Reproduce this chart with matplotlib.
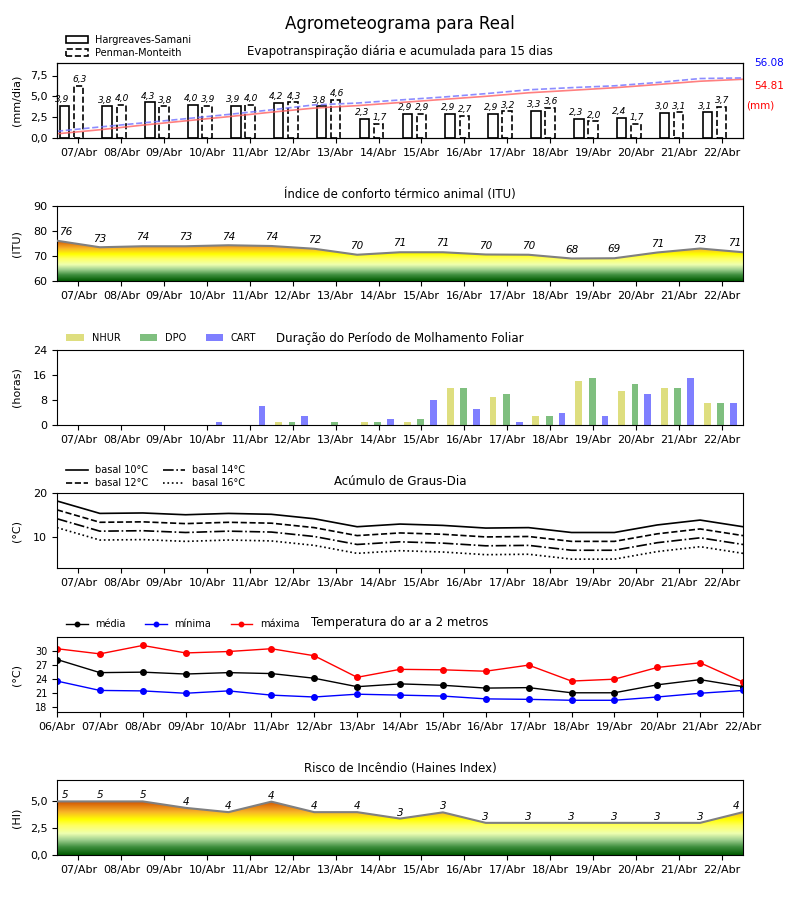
import numpy as np
import matplotlib
matplotlib.use('Agg')
import matplotlib.pyplot as plt
from matplotlib.colors import LinearSegmentedColormap
from matplotlib.patches import PathPatch
from matplotlib.ticker import FuncFormatter

# dias (06/Abr ... 22/Abr)
dias = ['06/Abr', '07/Abr', '08/Abr', '09/Abr', '10/Abr', '11/Abr', '12/Abr', '13/Abr',
        '14/Abr', '15/Abr', '16/Abr', '17/Abr', '18/Abr', '19/Abr', '20/Abr', '21/Abr', '22/Abr']
dias_bar = dias[1:]

# evapotranspiracao diaria (mm/dia)
et_hs = [3.9, 3.8, 4.3, 4.0, 3.9, 4.2, 3.8, 2.3, 2.9, 2.9, 2.9, 3.3, 2.3, 2.4, 3.0, 3.1]
et_pm = [6.3, 4.0, 3.8, 3.9, 4.0, 4.3, 4.6, 1.7, 2.9, 2.7, 3.2, 3.6, 2.0, 1.7, 3.1, 3.7]
# acumulado (mm)
acc_hs = [3.9, 7.7, 12.0, 16.0, 19.9, 24.1, 27.9, 30.2, 33.1, 36.0, 38.9, 42.2, 44.5, 46.9,
          49.9, 53.0, 54.81]
acc_pm = [6.3, 10.3, 14.1, 18.0, 22.0, 26.3, 30.9, 32.6, 35.5, 38.2, 41.4, 45.0, 47.0, 48.7,
          51.8, 55.5, 56.08]

# ITU
itu = [76.1, 73.5, 73.9, 73.9, 74.3, 74.0, 72.9, 70.5, 71.5, 71.5, 70.6, 70.5, 69.0, 69.1,
       71.4, 73.0, 71.5]
itu_lbl = [76, 73, 74, 73, 74, 74, 72, 70, 71, 71, 70, 70, 68, 69, 71, 73, 71]

# molhamento foliar (horas)
nhur = [0, 0, 0, 0, 0, 1, 0, 1, 1, 12, 9, 3, 14, 11, 12, 7]
dpo = [0, 0, 0, 0, 0, 1, 1, 1, 2, 12, 10, 3, 15, 13, 12, 7]
cart = [0, 0, 0, 1, 6, 3, 0, 2, 8, 5, 1, 4, 3, 10, 15, 7]

# graus-dia
gd10 = [18.2, 15.4, 15.5, 15.1, 15.4, 15.2, 14.2, 12.4, 13.0, 12.7, 12.1, 12.2, 11.1, 11.1, 12.8, 13.9, 12.4]
gd12 = [16.2, 13.4, 13.5, 13.1, 13.4, 13.2, 12.2, 10.4, 11.0, 10.7, 10.1, 10.2, 9.1, 9.1, 10.8, 11.9, 10.4]
gd14 = [14.2, 11.4, 11.5, 11.1, 11.4, 11.2, 10.2, 8.4, 9.0, 8.7, 8.1, 8.2, 7.1, 7.1, 8.8, 9.9, 8.4]
gd16 = [12.2, 9.4, 9.5, 9.1, 9.4, 9.2, 8.2, 6.4, 7.0, 6.7, 6.1, 6.2, 5.1, 5.1, 6.8, 7.9, 6.4]

# temperatura do ar
t_med = [28.2, 25.4, 25.5, 25.1, 25.4, 25.2, 24.2, 22.4, 23.0, 22.7, 22.1, 22.2, 21.1, 21.1, 22.8, 23.9, 22.4]
t_min = [23.6, 21.6, 21.5, 21.0, 21.5, 20.6, 20.2, 20.8, 20.6, 20.4, 19.8, 19.7, 19.5, 19.5, 20.2, 21.0, 21.6]
t_max = [30.5, 29.4, 31.2, 29.6, 29.9, 30.5, 29.0, 24.4, 26.1, 26.0, 25.7, 27.0, 23.6, 24.0, 26.5, 27.5, 23.4]

# Haines
haines = [5.0, 5.0, 5.0, 4.4, 4.0, 4.98, 4.0, 4.0, 3.4, 3.98, 3.0, 3.0, 3.0, 3.0, 3.0, 3.0, 4.0]
haines_lbl = [5, 5, 5, 4, 4, 4, 4, 4, 3, 3, 3, 3, 3, 3, 3, 3, 4]

cmap = LinearSegmentedColormap.from_list('risco', [
    (0.0, '#005a00'), (0.15, '#3f8f3f'), (0.28, '#9fd08f'), (0.40, '#eeffb0'),
    (0.55, '#ffff60'), (0.66, '#ffff00'), (0.80, '#f8b428'), (1.0, '#d05000')])

comma = FuncFormatter(lambda v, p: f'{v:.1f}'.replace('.', ','))

fig = plt.figure(figsize=(8, 9), dpi=100)
fig.suptitle('Agrometeograma para Real', fontsize=12, y=0.983)


def make_ax(top_px):
    return fig.add_axes([57 / 800, 1 - (top_px + 75) / 900, 686 / 800, 75 / 900])


def day_axis(ax):
    ax.set_xlim(0, 16)
    ax.set_xticks(np.arange(16) + 0.5)
    ax.set_xticklabels(dias_bar)
    ax.tick_params(labelsize=8)


def gradient_fill(ax, x, y, y0):
    poly = ax.fill_between(x, y0, y, facecolor='none', edgecolor='none')
    patch = PathPatch(poly.get_paths()[0], transform=ax.transData, facecolor='none', edgecolor='none')
    ax.add_patch(patch)
    grad = np.linspace(0, 1, 256).reshape(-1, 1)
    im = ax.imshow(grad, extent=[x[0], x[-1], y0, max(y)], origin='lower', aspect='auto',
                   cmap=cmap, zorder=1)
    im.set_clip_path(patch)
    ax.plot(x, y, color='gray', lw=1.5, zorder=3)


x17 = np.arange(17)
x16 = np.arange(16)

# 1) evapotranspiracao
ax1 = make_ax(63)
b1 = ax1.bar(x16 + 0.17, et_hs, 0.22, facecolor='white', edgecolor='black', lw=1.2,
             label='Hargreaves-Samani')
b2 = ax1.bar(x16 + 0.50, et_pm, 0.22, facecolor='white', edgecolor='black', lw=1.2,
             linestyle='--', label='Penman-Monteith')
for i in range(16):
    ax1.text(x16[i] + 0.12, et_hs[i] + 0.2, f'{et_hs[i]:.1f}'.replace('.', ','),
             ha='center', va='bottom', fontsize=6.5, style='italic')
    ax1.text(x16[i] + 0.52, et_pm[i] + 0.2, f'{et_pm[i]:.1f}'.replace('.', ','),
             ha='center', va='bottom', fontsize=6.5, style='italic')
ax1.set_ylim(0, 9)
ax1.set_yticks([0, 2.5, 5, 7.5])
ax1.yaxis.set_major_formatter(comma)
day_axis(ax1)
ax1.set_ylabel('(mm/dia)', fontsize=8)
ax1.set_title('Evapotranspiração diária e acumulada para 15 dias', fontsize=8.5, pad=6)
ax1.legend(loc='lower left', bbox_to_anchor=(0.005, 0.99), frameon=False, fontsize=7,
           handlelength=2.2, borderpad=0.1, labelspacing=0.3)
ax1b = ax1.twinx()
ax1b.plot(x17, acc_hs, color='#ff6060', lw=1.2, alpha=0.8)
ax1b.plot(x17, acc_pm, color='#7070ff', lw=1.2, ls='--', alpha=0.8)
ax1b.set_ylim(0, 70)
ax1b.set_yticks([])
ax1b.set_xlim(0, 16)
ax1.text(1.017, 1.0, f'{acc_pm[-1]:.2f}', transform=ax1.transAxes, color='blue', fontsize=7.5,
         va='center', ha='left')
ax1.text(1.017, 0.69, f'{acc_hs[-1]:.2f}', transform=ax1.transAxes, color='red', fontsize=7.5,
         va='center', ha='left')
ax1.text(1.004, 0.44, '(mm)', transform=ax1.transAxes, color='red', fontsize=7.5,
         va='center', ha='left')

# 2) ITU
ax2 = make_ax(206)
gradient_fill(ax2, x17, itu, 60)
for i in range(17):
    xi = min(max(x17[i], 0.2), 15.8)
    ax2.text(xi, itu[i] + 1.5, str(itu_lbl[i]), ha='center', va='bottom', fontsize=7.5,
             style='italic')
ax2.set_ylim(60, 90)
ax2.set_yticks([60, 70, 80, 90])
day_axis(ax2)
ax2.set_ylabel('(ITU)', fontsize=8)
ax2.set_title('Índice de conforto térmico animal (ITU)', fontsize=8.5, pad=6)

# 3) molhamento foliar
ax3 = make_ax(350)
ax3.bar(x16 + 0.17, nhur, 0.16, color='y', alpha=0.5, label='NHUR')
ax3.bar(x16 + 0.48, dpo, 0.16, color='g', alpha=0.5, label='DPO')
ax3.bar(x16 + 0.78, cart, 0.16, color='b', alpha=0.5, label='CART')
ax3.set_ylim(0, 24)
ax3.set_yticks([0, 8, 16, 24])
day_axis(ax3)
ax3.set_ylabel('(horas)', fontsize=8)
ax3.set_title('Duração do Período de Molhamento Foliar', fontsize=8.5, pad=6)
ax3.legend(loc='lower left', bbox_to_anchor=(0.005, 1.02), ncol=3, frameon=False, fontsize=7,
           borderpad=0.1, columnspacing=2.0, handlelength=1.8)

# 4) graus-dia
ax4 = make_ax(493)
ax4.plot(x17, gd10, 'k-', lw=1.2, label='basal 10°C')
ax4.plot(x17, gd12, 'k--', lw=1.2, label='basal 12°C')
ax4.plot(x17, gd14, 'k-.', lw=1.2, label='basal 14°C')
ax4.plot(x17, gd16, 'k:', lw=1.2, label='basal 16°C')
ax4.set_ylim(3.1, 20)
ax4.set_yticks([10, 20])
day_axis(ax4)
ax4.set_ylabel('(°C)', fontsize=8)
ax4.set_title('Acúmulo de Graus-Dia', fontsize=8.5, pad=6)
ax4.legend(loc='lower left', bbox_to_anchor=(0.005, 0.99), ncol=2, frameon=False, fontsize=7,
           borderpad=0.1, labelspacing=0.3, handlelength=2.2, columnspacing=1.5)

# 5) temperatura
ax5 = make_ax(637)
ax5.plot(x17, t_med, '-o', color='black', ms=4, lw=1, label='média')
ax5.plot(x17, t_min, '-o', color='blue', ms=4, lw=1, label='mínima')
ax5.plot(x17, t_max, '-o', color='red', ms=4, lw=1, label='máxima')
ax5.set_xlim(0, 16)
ax5.set_xticks(x17)
ax5.set_xticklabels(dias)
ax5.tick_params(axis='x', labelsize=8)
ax5.tick_params(axis='y', labelsize=7)
ax5.set_ylim(17, 33)
ax5.set_yticks([18, 21, 24, 27, 30])
ax5.set_ylabel('(°C)', fontsize=8)
ax5.set_title('Temperatura do ar a 2 metros', fontsize=8.5, pad=8)
ax5.legend(loc='lower left', bbox_to_anchor=(0.005, 1.03), ncol=3, frameon=False, fontsize=7,
           borderpad=0.1, columnspacing=2.0, handlelength=2.2, markerscale=0.8)

# 6) Haines
ax6 = make_ax(780)
gradient_fill(ax6, x17, haines, 0)
for i in range(17):
    xi = min(max(x17[i], 0.2), 15.85)
    ax6.text(xi, haines[i] + 0.1, str(haines_lbl[i]), ha='center', va='bottom', fontsize=7.5,
             style='italic')
ax6.set_ylim(0, 7)
ax6.set_yticks([0, 2.5, 5])
ax6.yaxis.set_major_formatter(comma)
day_axis(ax6)
ax6.set_ylabel('(HI)', fontsize=8)
ax6.set_title('Risco de Incêndio (Haines Index)', fontsize=8.5, pad=6)

for ax in [ax1, ax2, ax3, ax4, ax6]:
    ax.tick_params(axis='y', labelsize=8)
    ax.yaxis.set_label_coords(-0.052, 0.5)
ax5.yaxis.set_label_coords(-0.052, 0.5)

fig.savefig('out.png', dpi=100)
